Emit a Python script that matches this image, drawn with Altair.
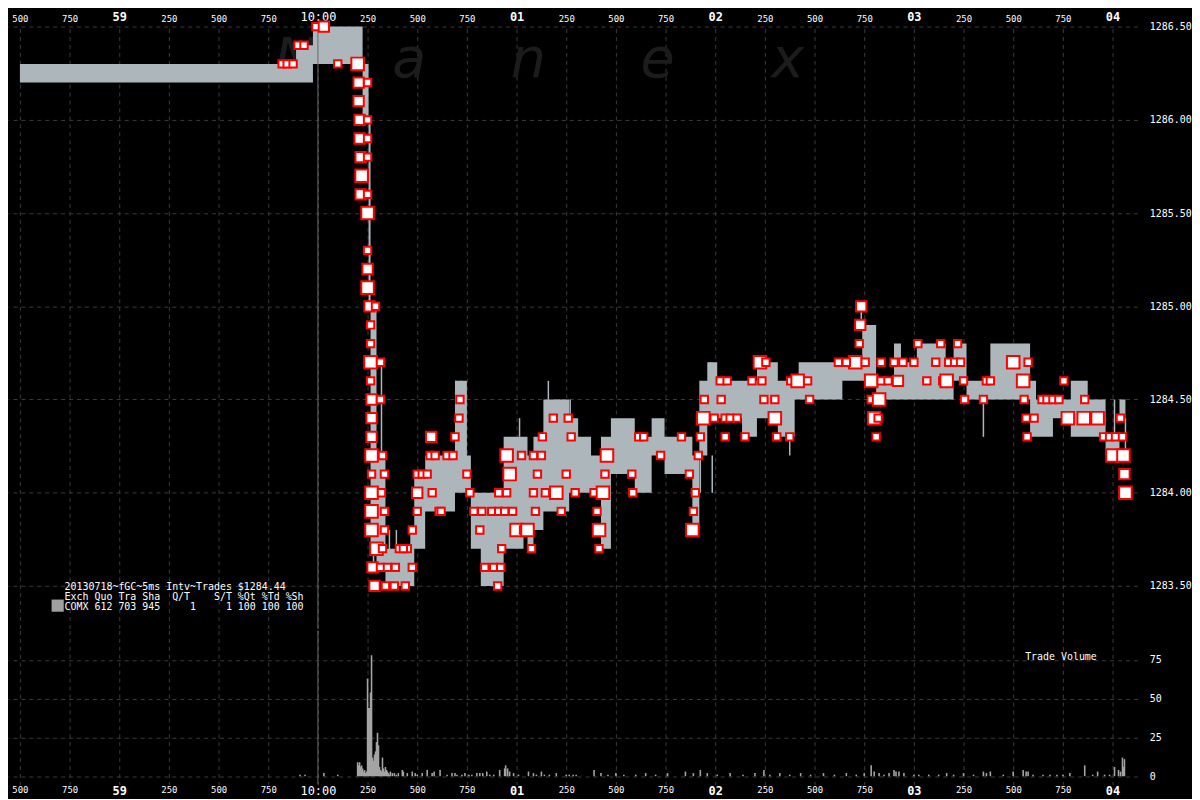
import altair as alt
import pandas as pd

# ---------------- data (time in ms relative to 10:00:00.000) ----------------
band_t = [-1500, -110, -25, 225, 255, 265, 295, 340, 465, 485, 540, 690, 750, 770, 820,
          935, 1035, 1055, 1085, 1135, 1265, 1310, 1375, 1425, 1475, 1595, 1680, 1745,
          1885, 1920, 1960, 2010, 2135, 2210, 2315, 2400, 2420, 2640, 2740, 2810, 2900,
          2935, 3015, 3160, 3200, 3265, 3385, 3585, 3615, 3700, 3790, 3875, 3965, 4035, 4065]
band_bid = [1286.2, 1286.2, 1286.3, 1286.0, 1285.0, 1283.7, 1283.6, 1283.5, 1283.5, 1283.7,
            1283.9, 1284.0, 1284.0, 1283.7, 1283.5, 1283.7, 1283.8, 1283.7, 1283.8, 1283.9,
            1284.0, 1284.0, 1284.0, 1283.7, 1284.1, 1284.0, 1284.2, 1284.1, 1283.8, 1284.2,
            1284.4, 1284.4, 1284.3, 1284.4, 1284.3, 1284.5, 1284.5, 1284.6, 1284.6, 1284.5,
            1284.5, 1284.5, 1284.5, 1284.5, 1284.6, 1284.5, 1284.5, 1284.3, 1284.3, 1284.4,
            1284.3, 1284.3, 1284.2, 1284.4, 1284.4]
band_ask = [1286.3, 1286.4, 1286.5, 1286.3, 1286.0, 1285.0, 1284.2, 1283.7, 1283.8, 1284.1,
            1284.2, 1284.6, 1284.2, 1284.0, 1284.0, 1284.3, 1284.3, 1284.2, 1284.3, 1284.5,
            1284.4, 1284.3, 1284.2, 1284.3, 1284.4, 1284.3, 1284.4, 1284.3, 1284.2, 1284.6,
            1284.7, 1284.6, 1284.6, 1284.7, 1284.6, 1284.6, 1284.7, 1284.7, 1284.9, 1284.6,
            1284.8, 1284.7, 1284.8, 1284.7, 1284.8, 1284.6, 1284.8, 1284.6, 1284.5, 1284.5,
            1284.6, 1284.5, 1284.3, 1284.5, 1284.5]

spike_t = [280, 320, 360, 395, 695, 720, 780, 880, 1015, 1160, 1215, 1270, 1925, 1975,
           1985, 2375, 2735, 3350, 4010, 4065]
spike_lo = [1283.6, 1284.2, 1283.5, 1283.5, 1284.5, 1284.5, 1283.8, 1283.5, 1284.3, 1284.5,
            1284.4, 1284.4, 1284.0, 1284.6, 1284.0, 1284.2, 1284.9, 1284.3, 1284.3, 1284.2]
spike_hi = [1285.0, 1284.7, 1283.8, 1283.8, 1284.6, 1284.6, 1284.0, 1283.7, 1284.4, 1284.6,
            1284.5, 1284.5, 1284.2, 1284.7, 1284.2, 1284.3, 1285.0, 1284.5, 1284.5, 1284.4]

trade_t = [-180, -155, -125, -100, -70, -10, 30, 100, 200, 205, 250, 205, 210, 250, 210, 250,
           215, 250, 220, 215, 250, 250, 250, 250, 250, 260, 290, 265, 265, 265, 315, 265,
           270, 315, 270, 270, 270, 325, 270, 335, 270, 320, 270, 335, 270, 335,
           295, 325, 410, 450, 430, 275, 315, 350, 390, 475, 285, 340, 385, 440,
           475, 500, 500, 575, 500, 525, 550, 565, 590, 650, 680, 570, 690, 710, 715,
           750, 765, 610, 620, 785, 825, 875, 910, 940, 980, 815, 925, 840, 885, 920, 905,
           910, 950, 950, 1025, 965, 1000, 1035, 1085, 1125, 1130, 1275, 1185, 1260,
           1105, 1250, 1085, 1145, 1200, 1295, 1095, 1225, 1055, 1075, 1390, 1435, 1405,
           1415, 1415, 1455, 1445, 1580, 1585, 1615, 1640, 1725, 1830, 1925, 1915, 1870,
           1900, 1890, 1885, 1945, 1940,
           2735, 2730, 2725, 2705, 2755, 2620, 2660, 2835, 2900, 2945, 3000, 3110, 3020, 3135,
           2225, 2255, 2025, 2060, 2185, 2235, 2380, 2415, 2465, 2785, 2835, 2870, 2920,
           3065, 3145, 2030, 2245, 2300, 2475, 2785, 2825, 1995, 2050, 2075, 2110, 2300,
           2800, 2820, 2050, 2150, 2310, 2375, 2810,
           3220, 3175, 3205, 3235, 3500, 3575, 3165, 3250, 3365, 3385, 3550, 3755,
           3255, 3350, 3555, 3645, 3670, 3700, 3730, 3860, 3565, 3605, 3775, 3855, 3925,
           4040, 3570, 3955, 3985, 4015, 4050, 4000, 4055, 4060, 4065]
trade_px = [1286.3, 1286.3, 1286.3, 1286.4, 1286.4, 1286.5, 1286.5, 1286.3, 1286.3, 1286.2,
            1286.2, 1286.1, 1286.0, 1286.0, 1285.9, 1285.9, 1285.8, 1285.8, 1285.7, 1285.6,
            1285.6, 1285.5, 1285.3, 1285.2, 1285.1, 1285.0, 1285.0, 1284.9, 1284.8, 1284.7,
            1284.7, 1284.6, 1284.5, 1284.5, 1284.4, 1284.3, 1284.2, 1284.2, 1284.1, 1284.1,
            1284.0, 1284.0, 1283.9, 1283.9, 1283.8, 1283.8,
            1283.7, 1283.7, 1283.7, 1283.7, 1283.7, 1283.6, 1283.6, 1283.6, 1283.6, 1283.6,
            1283.5, 1283.5, 1283.5, 1283.5,
            1283.8, 1283.9, 1284.0, 1284.0, 1284.1, 1284.1, 1284.1, 1284.2, 1284.2, 1284.2,
            1284.2, 1284.3, 1284.3, 1284.4, 1284.5,
            1284.1, 1284.0, 1283.9, 1283.9, 1283.9, 1283.9, 1283.9, 1283.9, 1283.9, 1283.9,
            1283.8, 1283.7, 1283.6, 1283.6, 1283.6, 1283.5,
            1284.0, 1284.0, 1284.2, 1284.2, 1284.1, 1283.8, 1283.8, 1284.2, 1284.2, 1284.3,
            1284.3, 1284.4, 1284.4,
            1284.1, 1284.1, 1284.0, 1284.0, 1284.0, 1284.0, 1283.9, 1283.9, 1283.8, 1283.7,
            1284.0, 1284.0, 1283.9,
            1283.8, 1283.7, 1284.2, 1284.1, 1284.1, 1284.0, 1284.3, 1284.3, 1284.2, 1284.3,
            1284.3, 1284.2, 1284.1,
            1284.0, 1283.9, 1283.8, 1284.5, 1284.4,
            1285.0, 1284.9, 1284.8, 1284.7, 1284.7, 1284.7, 1284.7, 1284.7, 1284.7, 1284.7,
            1284.7, 1284.7, 1284.8, 1284.8,
            1284.7, 1284.7, 1284.6, 1284.6, 1284.6, 1284.6, 1284.6, 1284.6, 1284.6, 1284.6,
            1284.6, 1284.6, 1284.6,
            1284.6, 1284.6, 1284.5, 1284.5, 1284.5, 1284.5, 1284.5, 1284.5, 1284.4, 1284.4,
            1284.4, 1284.4, 1284.4,
            1284.4, 1284.4, 1284.3, 1284.3, 1284.3, 1284.3, 1284.3,
            1284.8, 1284.7, 1284.7, 1284.7, 1284.7, 1284.7, 1284.6, 1284.6, 1284.6, 1284.6,
            1284.6, 1284.6,
            1284.5, 1284.5, 1284.5, 1284.5, 1284.5, 1284.5, 1284.5, 1284.5, 1284.4, 1284.4,
            1284.4, 1284.4, 1284.4,
            1284.4, 1284.3, 1284.3, 1284.3, 1284.3, 1284.3, 1284.2, 1284.2, 1284.1, 1284.0]
trade_sz = [1, 1, 1, 1, 1, 1, 2, 1, 3, 2, 1, 2, 2, 1, 2, 1,
            2, 1, 3, 2, 1, 3, 1, 2, 3, 2, 1, 1, 1, 3, 1, 1,
            2, 1, 2, 2, 3, 1, 1, 1, 3, 1, 3, 1, 3, 1,
            3, 1, 1, 1, 1, 2, 1, 1, 1, 1, 2, 1, 1, 1,
            1, 1, 2, 1, 1, 1, 1, 1, 1, 1, 1, 2, 1, 1, 1,
            1, 1, 1, 1, 1, 1, 1, 1, 1, 1, 1, 1, 1, 1, 1, 1,
            1, 1, 3, 1, 3, 3, 1, 1, 1, 1, 1, 1, 1,
            1, 1, 1, 1, 3, 1, 1, 1, 3, 1, 1, 3, 1,
            3, 1, 3, 1, 1, 1, 1, 1, 1, 1, 1, 1, 1,
            1, 1, 3, 1, 3,
            2, 2, 1, 3, 1, 1, 1, 1, 1, 1, 1, 1, 1, 1,
            3, 1, 1, 1, 1, 1, 1, 3, 1, 3, 1, 1, 2,
            1, 1, 1, 1, 1, 1, 1, 3, 1, 1, 1, 1, 3,
            3, 1, 1, 1, 1, 1, 1,
            1, 1, 1, 1, 3, 1, 3, 1, 1, 1, 3, 1,
            1, 1, 1, 1, 1, 1, 1, 1, 1, 1, 3, 3, 3,
            1, 1, 1, 1, 1, 1, 3, 3, 2, 3]

vol_t = [-90, -65, 30, 100, 200, 205, 210, 215, 220, 225, 230, 235, 240, 245, 250, 255, 260,
         265, 270, 275, 280, 285, 290, 295, 300, 305, 310, 315, 320, 325, 330, 335, 340, 345,
         350, 355, 360, 365, 375, 385, 395, 405, 425, 430, 450, 475, 490, 500, 525, 550, 575,
         585, 615, 650, 675, 690, 700, 725, 740, 760, 775, 800, 815, 830, 850, 865, 885, 915,
         940, 945, 955, 965, 985, 1010, 1060, 1085, 1100, 1125, 1140, 1165, 1200, 1250, 1265,
         1285, 1300, 1390, 1425, 1460, 1500, 1540, 1600, 1650, 1700, 1760, 1850, 1890, 1925,
         1960, 2010, 2075, 2140, 2200, 2245, 2275, 2325, 2375, 2430, 2480, 2545, 2600, 2660,
         2710, 2750, 2785, 2800, 2825, 2850, 2875, 2900, 2910, 2925, 2950, 3000, 3025, 3075,
         3125, 3165, 3200, 3250, 3300, 3350, 3365, 3385, 3450, 3500, 3550, 3565, 3575, 3600,
         3650, 3685, 3720, 3750, 3785, 3860, 3900, 3925, 3960, 3985, 4010, 4030, 4040, 4050,
         4055, 4060]
vol_v = [1, 1, 2, 1, 9, 7, 9, 6, 7, 5, 3, 4, 2, 3, 63, 44, 44,
         54, 78, 12, 10, 14, 16, 22, 28, 20, 6, 4, 3, 12, 5, 3, 6, 4,
         3, 2, 1, 3, 2, 2, 1, 2, 4, 3, 2, 3, 2, 1, 2, 4, 2,
         3, 4, 1, 2, 2, 1, 1, 2, 1, 1, 2, 2, 2, 3, 1, 1, 4,
         5, 7, 5, 3, 2, 1, 3, 2, 1, 3, 1, 1, 2, 1, 1,
         1, 1, 4, 2, 1, 2, 1, 1, 2, 1, 2, 3, 2, 4,
         2, 1, 2, 1, 2, 4, 1, 2, 1, 2, 1, 2, 1, 2,
         1, 2, 7, 3, 2, 1, 2, 4, 3, 3, 2, 1, 1, 1,
         1, 2, 1, 2, 1, 3, 2, 3, 1, 3, 4, 3, 3, 1,
         1, 1, 1, 1, 2, 7, 1, 3, 1, 1, 6, 4, 3, 12,
         6, 11]

tick_ms = list(range(-1500, 4001, 250))
tick_labels = ["500", "750", "59", "250", "500", "750", "10:00", "250", "500", "750", "01",
               "250", "500", "750", "02", "250", "500", "750", "03", "250", "500", "750", "04"]
price_ticks = [1283.5, 1284.0, 1284.5, 1285.0, 1285.5, 1286.0, 1286.5]
vol_ticks = [0, 25, 50, 75]

wm_letters = ["N", "a", "n", "e", "x"]
wm_t = [-115, 460, 1060, 1710, 2365]
wm_p = [1286.32, 1286.32, 1286.32, 1286.32, 1286.32]

legend_text = ("20130718~fGC~5ms Intv~Trades $1284.44\n"
               "Exch Quo Tra Sha  Q/T    S/T %Qt %Td %Sh\n"
               "COMX 612 703 945     1     1 100 100 100").replace(" ", "\u00a0")

# ---------------- layout constants ----------------
X_DOMAIN = [-1560, 4125]
PLOT_W = 1137
PRICE_H = 608
VOL_H = 155
PRICE_DOMAIN = [1283.272, 1286.511]
VOL_DOMAIN = [-5.3, 94.0]
GRID = "#3a3a3a"
BAND = "#adb7bb"
MONO = "DejaVu Sans Mono"

label_expr = ("[" + ",".join("'%s'" % s for s in tick_labels) + "][indexof(["
              + ",".join(str(v) for v in tick_ms) + "], datum.value)]")


def x_axis(orient):
    return alt.Axis(orient=orient, values=tick_ms, labelExpr=label_expr, title=None,
                    grid=True, gridColor=GRID, gridDash=[4, 4], domain=False, ticks=False,
                    labelColor="white", labelFont=MONO, labelPadding=1,
                    labelFlush=False, labelOverlap=False,
                    labelFontSize={"condition": {"test": "datum.value % 1000 == 0", "value": 12},
                                   "value": 9},
                    labelFontWeight={"condition": {"test": "datum.value % 1000 == 0 && datum.value != 0",
                                                   "value": "bold"}, "value": "normal"})


xscale = alt.Scale(domain=X_DOMAIN, nice=False, zero=False)
top_x = alt.X("t:Q", scale=xscale, axis=x_axis("top"))
bot_x = alt.X("t:Q", scale=xscale, axis=x_axis("bottom"))

price_axis = alt.Axis(orient="right", values=price_ticks, format=".2f", title=None, grid=True,
                      gridColor=GRID, gridDash=[4, 4], domain=False, ticks=False,
                      labelColor="white", labelFont=MONO, labelFontSize=10, labelPadding=12)
pscale = alt.Scale(domain=PRICE_DOMAIN, nice=False, zero=False)

band_df = pd.DataFrame({"t": band_t, "bid": band_bid, "ask": band_ask})
spike_df = pd.DataFrame({"t": spike_t, "lo": spike_lo, "hi": spike_hi})
trade_df = pd.DataFrame({"t": trade_t, "p": trade_px, "sz": trade_sz})
vol_df = pd.DataFrame({"t": vol_t, "v": vol_v})
wm_df = pd.DataFrame({"t": wm_t, "p": wm_p, "txt": wm_letters})
one = pd.DataFrame({"t": [0]})

watermark = alt.Chart(wm_df).mark_text(fontSize=56, font="DejaVu Sans", fontStyle="italic",
                                       color="#1c1c1c", baseline="middle").encode(
    x=top_x, y=alt.Y("p:Q", scale=pscale, axis=price_axis), text="txt:N")

band = alt.Chart(band_df).mark_area(interpolate="step-after", color=BAND, opacity=1).encode(
    x=top_x, y=alt.Y("bid:Q", scale=pscale, axis=price_axis), y2="ask:Q")

spikes = alt.Chart(spike_df).mark_rule(color=BAND, strokeWidth=1.5).encode(
    x=top_x, y=alt.Y("lo:Q", scale=pscale, axis=price_axis), y2="hi:Q")

minute_top = alt.Chart(one).mark_rule(color="#6a6a6a", strokeWidth=1).encode(x=top_x)

trades = alt.Chart(trade_df).mark_square(filled=True, color="white", stroke="#ff0000",
                                         strokeWidth=2, opacity=1).encode(
    x=top_x, y=alt.Y("p:Q", scale=pscale, axis=price_axis),
    size=alt.Size("sz:Q", scale=alt.Scale(domain=[1, 3], range=[55, 160]), legend=None))

legend_txt = alt.Chart(one).mark_text(align="left", baseline="top", font=MONO, fontSize=10,
                                      color="white", lineBreak="\n", lineHeight=10).encode(
    x=alt.value(57), y=alt.value(561), text=alt.value(legend_text))

legend_sq = alt.Chart(one).mark_square(color="#a0a0a0", size=150, opacity=1).encode(
    x=alt.value(50), y=alt.value(585))

price_panel = alt.layer(watermark, band, spikes, minute_top, trades, legend_txt, legend_sq
                        ).properties(width=PLOT_W, height=PRICE_H)

vscale = alt.Scale(domain=VOL_DOMAIN, nice=False, zero=False)
vol_axis = alt.Axis(orient="right", values=vol_ticks, title=None, grid=True, gridColor=GRID,
                    gridDash=[4, 4], domain=False, ticks=False, labelColor="white",
                    labelFont=MONO, labelFontSize=10, labelPadding=12)

minute_bot = alt.Chart(one).mark_rule(color="#6a6a6a", strokeWidth=1).encode(x=bot_x)
vol_bars = alt.Chart(vol_df).mark_rule(color="#a4a4a4", strokeWidth=1.6).encode(
    x=bot_x, y=alt.Y("v:Q", scale=vscale, axis=vol_axis), y2=alt.datum(0))
vol_title = alt.Chart(one).mark_text(align="left", baseline="middle", font=MONO, fontSize=10,
                                     color="white").encode(
    x=alt.value(1024), y=alt.value(27), text=alt.value("Trade Volume"))

vol_panel = alt.layer(minute_bot, vol_bars, vol_title).properties(width=PLOT_W, height=VOL_H)

chart = alt.vconcat(price_panel, vol_panel, spacing=0).properties(
    padding=0, background="black").configure_view(stroke=None)

chart.save("out.html", embed_options={"renderer": "svg", "actions": False})
